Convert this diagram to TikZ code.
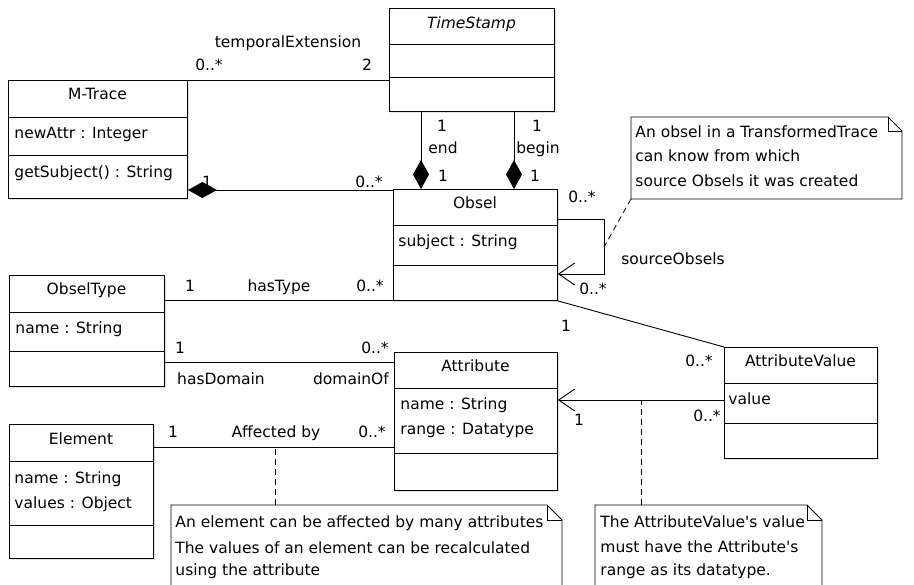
\documentclass[tikz,border=0pt]{standalone}
\usepackage{fontspec}
\setmainfont{DejaVu Sans}
\usepackage{tikz}
\usetikzlibrary{arrows.meta}
\usetikzlibrary{shadows}

\begin{document}
\begin{tikzpicture}[x=1pt, y=-1pt, line width=0.9pt,
            class box/.style={draw, fill=white, anchor=north west, inner sep=0pt,
              drop shadow={shadow xshift=1.5pt, shadow yshift=-1.5pt, fill=black!25}},
            title text/.style={anchor=base, inner sep=0pt, font=\fontsize{15.5}{18}\selectfont},
            attr text/.style={anchor=base west, inner sep=0pt, font=\fontsize{15.5}{18}\selectfont},
            label text/.style={anchor=base, inner sep=0pt, font=\fontsize{15.5}{18}\selectfont},
            comp/.style={{Diamond[length=29pt,width=16pt]}-},
            nav/.style={-{Straight Barb[length=16pt,width=22pt]}},
            note line/.style={line width=0.8pt, dash pattern=on 6pt off 4pt},
            ]
            \useasboundingbox (0,0) rectangle (914,585);

            % classes
            \node[class box, minimum width=179pt, minimum height=118pt] (mtrace) at (8,80) {};
            \node[title text] (mtrace title) at (97.5,100) {M-Trace};
            \node[attr text] (mtrace attr) at (14,139) {newAttr : Integer};
            \node[attr text] (mtrace op) at (14,178) {getSubject() : String};
            \draw (8,117) -- (187,117);
            \draw (8,155) -- (187,155);

            \node[class box, minimum width=165pt, minimum height=103pt] (timestamp) at (389,8) {};
            \node[title text] (timestamp title) at (471.5,29) {\itshape TimeStamp};
            \draw (389,44) -- (554,44);
            \draw (389,77) -- (554,77);

            \node[class box, minimum width=164pt, minimum height=111pt] (obsel) at (393,189) {};
            \node[title text] (obsel title) at (475,209) {Obsel};
            \node[attr text] (obsel attr) at (398,247) {subject : String};
            \draw (393,225) -- (557,225);
            \draw (393,265) -- (557,265);

            \node[class box, minimum width=155pt, minimum height=111pt] (obseltype) at (9,275) {};
            \node[title text] (obseltype title) at (86.5,295) {ObselType};
            \node[attr text] (obseltype attr) at (15,334) {name : String};
            \draw (9,312) -- (164,312);
            \draw (9,351) -- (164,351);

            \node[class box, minimum width=144pt, minimum height=134pt] (element) at (9,424) {};
            \node[title text] (element title) at (81,445) {Element};
            \node[attr text] (element attr1) at (14,483) {name : String};
            \node[attr text] (element attr2) at (14,508) {values : Object};
            \draw (9,461) -- (153,461);
            \draw (9,525) -- (153,525);

            \node[class box, minimum width=163pt, minimum height=138pt] (attribute) at (394,352) {};
            \node[title text] (attribute title) at (475.5,372) {Attribute};
            \node[attr text] (attribute attr1) at (400,410) {name : String};
            \node[attr text] (attribute attr2) at (400,435) {range : Datatype};
            \draw (394,388) -- (557,388);
            \draw (394,453) -- (557,453);

            \node[class box, minimum width=153pt, minimum height=111pt] (attrvalue) at (724,347) {};
            \node[title text] (attrvalue title) at (800.5,367) {AttributeValue};
            \node[attr text] (attrvalue attr) at (728,405) {value};
            \draw (724,383) -- (877,383);
            \draw (724,423) -- (877,423);

            % associations
            \draw (mtrace.north east) -- (mtrace.north east -| timestamp.west);
            \node[label text] (temporal) at (288,48) {temporalExtension};
            \node[label text] (temporal m1) at (209,71) {0..*};
            \node[label text] (temporal m2) at (367,71) {2};

            \draw[comp] (mtrace.east |- 0,190) -- (obsel.west |- 0,190);
            \node[label text] (trace m1) at (207,188) {1};
            \node[label text] (trace m2) at (369,188) {0..*};

            \draw[comp] (obsel.north -| 421,0) -- (timestamp.south -| 421,0);
            \node[label text] (end m1) at (442,132) {1};
            \node[label text] (end) at (443,154) {end};
            \node[label text] (end m2) at (443,182) {1};

            \draw[comp] (obsel.north -| 514,0) -- (timestamp.south -| 514,0);
            \node[label text] (begin m1) at (537,132) {1};
            \node[label text] (begin) at (538,154) {begin};
            \node[label text] (begin m2) at (535,182) {1};

            \draw[nav] (obsel.east |- 0,219) -- (604,219) -- (604,274) -- (obsel.east |- 0,274);
            \coordinate (self mid) at (604,247);
            \node[label text] (self m1) at (582,203) {0..*};
            \node[label text] (source) at (673,265) {sourceObsels};
            \node[label text] (self m2) at (593,295) {0..*};

            \draw (obseltype.east |- 0,300) -- (obsel.west |- 0,300);
            \node[label text] (type m1) at (190,292) {1};
            \node[label text] (hastype) at (279,292) {hasType};
            \node[label text] (type m2) at (370,292) {0..*};

            \draw (obseltype.east |- 0,362) -- (attribute.west |- 0,362);
            \node[label text] (domain m1) at (180,354) {1};
            \node[label text] (domain m2) at (375,354) {0..*};
            \node[label text] (hasdomain) at (221,385) {hasDomain};
            \node[label text] (domainof) at (351,385) {domainOf};

            \draw (element.east |- 0,447) -- (attribute.west |- 0,447);
            \coordinate (affected mid) at (275,447);
            \node[label text] (affected m1) at (173,438) {1};
            \node[label text] (affected) at (276,438) {Affected by};
            \node[label text] (affected m2) at (372,438) {0..*};

            \draw[nav] (attrvalue.west |- 0,400) -- (attribute.east |- 0,400);
            \coordinate (value mid) at (641,400);
            \node[label text] (value m1) at (579,426) {1};
            \node[label text] (value m2) at (707,422) {0..*};

            \draw (obsel.south east) -- (attrvalue.north west);
            \node[label text] (obsval m1) at (566,332) {1};
            \node[label text] (obsval m2) at (699,367) {0..*};

            % notes
            \draw[fill=white] (631,199) -- (631,117) -- (888,117) -- (902,131) -- (902,199) -- cycle;
            \draw (888,117) -- (888,131) -- (902,131);
            \coordinate (note1) at (631,199);
            \node[attr text] (note1 line1) at (635,138) {An obsel in a TransformedTrace};
            \node[attr text] (note1 line2) at (635,162) {can know from which};
            \node[attr text] (note1 line3) at (635,187) {source Obsels it was created};
            \draw[note line] (note1) -- (self mid);

            \draw[fill=white] (171,590) -- (171,505) -- (547,505) -- (562,520) -- (562,590);
            \draw (547,505) -- (547,520) -- (562,520);
            \coordinate (note2) at (275,505);
            \node[attr text] (note2 line1) at (175,528) {An element can be affected by many attributes};
            \node[attr text] (note2 line2) at (175,553) {The values of an element can be recalculated};
            \node[attr text] (note2 line3) at (175,576) {using the attribute};
            \draw[note line] (note2) -- (affected mid);

            \draw[fill=white] (595,590) -- (595,505) -- (807,505) -- (822,520) -- (822,590);
            \draw (807,505) -- (807,520) -- (822,520);
            \coordinate (note3) at (641,505);
            \node[attr text] (note3 line1) at (600,528) {The AttributeValue\textquotesingle s value};
            \node[attr text] (note3 line2) at (600,552) {must have the Attribute\textquotesingle s};
            \node[attr text] (note3 line3) at (600,576) {range as its datatype.};
            \draw[note line] (note3) -- (value mid);
        \end{tikzpicture}
\end{document}
